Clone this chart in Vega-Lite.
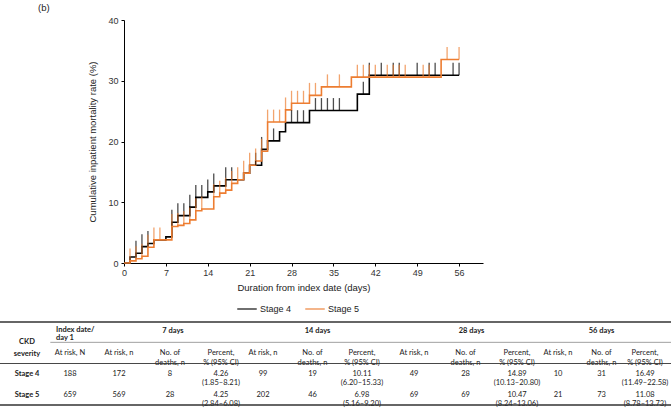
{
  "$schema": "https://vega.github.io/schema/vega-lite/v6.json",
  "width": 359,
  "height": 243,
  "autosize": {"type": "none"},
  "padding": {"left": 124, "top": 20, "right": 188, "bottom": 146},
  "background": "white",
  "config": {"view": {"stroke": null}, "font": "Liberation Sans"},
  "title": {"text": "(b)", "anchor": "start", "frame": "group", "dx": -86, "offset": 4, "fontSize": 9.5, "fontWeight": "normal", "color": "#222222", "font": "Liberation Sans"},
  "datasets": {
    "curve": [
      {"series": "Stage 4", "day": 0, "pct": 0},
      {"series": "Stage 4", "day": 1, "pct": 1.0},
      {"series": "Stage 4", "day": 2, "pct": 1.6},
      {"series": "Stage 4", "day": 3, "pct": 2.7},
      {"series": "Stage 4", "day": 4, "pct": 3.2},
      {"series": "Stage 4", "day": 5, "pct": 3.8},
      {"series": "Stage 4", "day": 7, "pct": 4.3},
      {"series": "Stage 4", "day": 8, "pct": 6.7},
      {"series": "Stage 4", "day": 9, "pct": 7.8},
      {"series": "Stage 4", "day": 11, "pct": 9.2},
      {"series": "Stage 4", "day": 12, "pct": 10.8},
      {"series": "Stage 4", "day": 14, "pct": 11.7},
      {"series": "Stage 4", "day": 15, "pct": 12.7},
      {"series": "Stage 4", "day": 17, "pct": 13.7},
      {"series": "Stage 4", "day": 20, "pct": 14.8},
      {"series": "Stage 4", "day": 21, "pct": 16.1},
      {"series": "Stage 4", "day": 23, "pct": 18.7},
      {"series": "Stage 4", "day": 24, "pct": 20.1},
      {"series": "Stage 4", "day": 26, "pct": 21.6},
      {"series": "Stage 4", "day": 27, "pct": 23.1},
      {"series": "Stage 4", "day": 31, "pct": 25.1},
      {"series": "Stage 4", "day": 39, "pct": 27.8},
      {"series": "Stage 4", "day": 41, "pct": 30.9},
      {"series": "Stage 4", "day": 56, "pct": 30.9},
      {"series": "Stage 5", "day": 0, "pct": 0},
      {"series": "Stage 5", "day": 1, "pct": 0.35},
      {"series": "Stage 5", "day": 2, "pct": 0.7},
      {"series": "Stage 5", "day": 3, "pct": 1.1},
      {"series": "Stage 5", "day": 4, "pct": 2.6},
      {"series": "Stage 5", "day": 5, "pct": 3.8},
      {"series": "Stage 5", "day": 8, "pct": 6.0},
      {"series": "Stage 5", "day": 9, "pct": 6.2},
      {"series": "Stage 5", "day": 10, "pct": 6.5},
      {"series": "Stage 5", "day": 11, "pct": 7.1},
      {"series": "Stage 5", "day": 12, "pct": 8.6},
      {"series": "Stage 5", "day": 13, "pct": 8.9},
      {"series": "Stage 5", "day": 15, "pct": 10.9},
      {"series": "Stage 5", "day": 16, "pct": 11.5},
      {"series": "Stage 5", "day": 17, "pct": 12.0},
      {"series": "Stage 5", "day": 18, "pct": 13.1},
      {"series": "Stage 5", "day": 19, "pct": 13.7},
      {"series": "Stage 5", "day": 20, "pct": 14.8},
      {"series": "Stage 5", "day": 21, "pct": 16.1},
      {"series": "Stage 5", "day": 22, "pct": 16.8},
      {"series": "Stage 5", "day": 23, "pct": 18.4},
      {"series": "Stage 5", "day": 24, "pct": 23.2},
      {"series": "Stage 5", "day": 27, "pct": 25.2},
      {"series": "Stage 5", "day": 28, "pct": 26.3},
      {"series": "Stage 5", "day": 31, "pct": 27.6},
      {"series": "Stage 5", "day": 33, "pct": 29.0},
      {"series": "Stage 5", "day": 38, "pct": 30.6},
      {"series": "Stage 5", "day": 53, "pct": 33.5},
      {"series": "Stage 5", "day": 56, "pct": 33.5}
    ],
    "censor": [
      {"series": "Stage 4", "day": 2, "pct": 1.6},
      {"series": "Stage 4", "day": 3, "pct": 2.7},
      {"series": "Stage 4", "day": 4, "pct": 3.2},
      {"series": "Stage 4", "day": 8, "pct": 6.7},
      {"series": "Stage 4", "day": 9, "pct": 7.8},
      {"series": "Stage 4", "day": 10, "pct": 7.8},
      {"series": "Stage 4", "day": 11, "pct": 9.2},
      {"series": "Stage 4", "day": 12, "pct": 10.8},
      {"series": "Stage 4", "day": 13, "pct": 10.8},
      {"series": "Stage 4", "day": 14, "pct": 11.7},
      {"series": "Stage 4", "day": 15, "pct": 12.7},
      {"series": "Stage 4", "day": 17, "pct": 13.7},
      {"series": "Stage 4", "day": 18, "pct": 13.7},
      {"series": "Stage 4", "day": 22, "pct": 16.1},
      {"series": "Stage 4", "day": 23, "pct": 18.7},
      {"series": "Stage 4", "day": 25, "pct": 20.1},
      {"series": "Stage 4", "day": 28, "pct": 23.1},
      {"series": "Stage 4", "day": 29, "pct": 23.1},
      {"series": "Stage 4", "day": 30, "pct": 23.1},
      {"series": "Stage 4", "day": 32, "pct": 25.1},
      {"series": "Stage 4", "day": 33, "pct": 25.1},
      {"series": "Stage 4", "day": 34, "pct": 25.1},
      {"series": "Stage 4", "day": 35, "pct": 25.1},
      {"series": "Stage 4", "day": 36, "pct": 25.1},
      {"series": "Stage 4", "day": 40, "pct": 27.8},
      {"series": "Stage 4", "day": 41, "pct": 30.9},
      {"series": "Stage 4", "day": 43, "pct": 30.9},
      {"series": "Stage 4", "day": 45, "pct": 30.9},
      {"series": "Stage 4", "day": 46, "pct": 30.9},
      {"series": "Stage 4", "day": 49, "pct": 30.9},
      {"series": "Stage 4", "day": 51, "pct": 30.9},
      {"series": "Stage 4", "day": 52, "pct": 30.9},
      {"series": "Stage 4", "day": 55, "pct": 30.9},
      {"series": "Stage 4", "day": 56, "pct": 30.9},
      {"series": "Stage 5", "day": 1, "pct": 0.35},
      {"series": "Stage 5", "day": 2, "pct": 0.7},
      {"series": "Stage 5", "day": 3, "pct": 1.1},
      {"series": "Stage 5", "day": 4, "pct": 2.6},
      {"series": "Stage 5", "day": 5, "pct": 3.8},
      {"series": "Stage 5", "day": 6, "pct": 3.8},
      {"series": "Stage 5", "day": 8, "pct": 6.0},
      {"series": "Stage 5", "day": 9, "pct": 6.2},
      {"series": "Stage 5", "day": 10, "pct": 6.5},
      {"series": "Stage 5", "day": 11, "pct": 7.1},
      {"series": "Stage 5", "day": 12, "pct": 8.6},
      {"series": "Stage 5", "day": 13, "pct": 8.9},
      {"series": "Stage 5", "day": 15, "pct": 10.9},
      {"series": "Stage 5", "day": 16, "pct": 11.5},
      {"series": "Stage 5", "day": 17, "pct": 12.0},
      {"series": "Stage 5", "day": 18, "pct": 13.1},
      {"series": "Stage 5", "day": 19, "pct": 13.7},
      {"series": "Stage 5", "day": 20, "pct": 14.8},
      {"series": "Stage 5", "day": 21, "pct": 16.1},
      {"series": "Stage 5", "day": 22, "pct": 16.8},
      {"series": "Stage 5", "day": 23, "pct": 18.4},
      {"series": "Stage 5", "day": 24, "pct": 23.2},
      {"series": "Stage 5", "day": 25, "pct": 23.2},
      {"series": "Stage 5", "day": 26, "pct": 23.2},
      {"series": "Stage 5", "day": 27, "pct": 25.2},
      {"series": "Stage 5", "day": 28, "pct": 26.3},
      {"series": "Stage 5", "day": 29, "pct": 26.3},
      {"series": "Stage 5", "day": 30, "pct": 26.3},
      {"series": "Stage 5", "day": 31, "pct": 27.6},
      {"series": "Stage 5", "day": 32, "pct": 27.6},
      {"series": "Stage 5", "day": 34, "pct": 29.0},
      {"series": "Stage 5", "day": 36, "pct": 29.0},
      {"series": "Stage 5", "day": 39, "pct": 30.6},
      {"series": "Stage 5", "day": 40, "pct": 30.6},
      {"series": "Stage 5", "day": 41, "pct": 30.6},
      {"series": "Stage 5", "day": 42, "pct": 30.6},
      {"series": "Stage 5", "day": 44, "pct": 30.6},
      {"series": "Stage 5", "day": 45, "pct": 30.6},
      {"series": "Stage 5", "day": 46, "pct": 30.6},
      {"series": "Stage 5", "day": 47, "pct": 30.6},
      {"series": "Stage 5", "day": 50, "pct": 30.6},
      {"series": "Stage 5", "day": 51, "pct": 30.6},
      {"series": "Stage 5", "day": 54, "pct": 33.5},
      {"series": "Stage 5", "day": 56, "pct": 33.5}
    ],
    "cells": [
      {"row": "h1", "grp": "lead", "sub": "sev", "txt": "CKD\nseverity"},
      {"row": "h1", "grp": "lead", "sub": "N", "txt": "Index date/\nday 1"},
      {"row": "h2", "grp": "lead", "sub": "N", "txt": "At risk, N"},
      {"row": "s4", "grp": "lead", "sub": "sev", "txt": "Stage 4"},
      {"row": "s4", "grp": "lead", "sub": "N", "txt": "188"},
      {"row": "s5", "grp": "lead", "sub": "sev", "txt": "Stage 5"},
      {"row": "s5", "grp": "lead", "sub": "N", "txt": "659"},

      {"row": "h1", "grp": "7", "sub": "d", "txt": "7 days"},
      {"row": "h2", "grp": "7", "sub": "r", "txt": "At risk, n"},
      {"row": "h2", "grp": "7", "sub": "d", "txt": "No. of\ndeaths, n"},
      {"row": "h2", "grp": "7", "sub": "p", "txt": "Percent,\n% (95% CI)"},
      {"row": "s4", "grp": "7", "sub": "r", "txt": "172"},
      {"row": "s4", "grp": "7", "sub": "d", "txt": "8"},
      {"row": "s4", "grp": "7", "sub": "p", "txt": "4.26\n(1.85–8.21)"},
      {"row": "s5", "grp": "7", "sub": "r", "txt": "569"},
      {"row": "s5", "grp": "7", "sub": "d", "txt": "28"},
      {"row": "s5", "grp": "7", "sub": "p", "txt": "4.25\n(2.84–6.08)"},

      {"row": "h1", "grp": "14", "sub": "d", "txt": "14 days"},
      {"row": "h2", "grp": "14", "sub": "r", "txt": "At risk, n"},
      {"row": "h2", "grp": "14", "sub": "d", "txt": "No. of\ndeaths, n"},
      {"row": "h2", "grp": "14", "sub": "p", "txt": "Percent,\n% (95% CI)"},
      {"row": "s4", "grp": "14", "sub": "r", "txt": "99"},
      {"row": "s4", "grp": "14", "sub": "d", "txt": "19"},
      {"row": "s4", "grp": "14", "sub": "p", "txt": "10.11\n(6.20–15.33)"},
      {"row": "s5", "grp": "14", "sub": "r", "txt": "202"},
      {"row": "s5", "grp": "14", "sub": "d", "txt": "46"},
      {"row": "s5", "grp": "14", "sub": "p", "txt": "6.98\n(5.16–9.20)"},

      {"row": "h1", "grp": "28", "sub": "d", "txt": "28 days"},
      {"row": "h2", "grp": "28", "sub": "r", "txt": "At risk, n"},
      {"row": "h2", "grp": "28", "sub": "d", "txt": "No. of\ndeaths, n"},
      {"row": "h2", "grp": "28", "sub": "p", "txt": "Percent,\n% (95% CI)"},
      {"row": "s4", "grp": "28", "sub": "r", "txt": "49"},
      {"row": "s4", "grp": "28", "sub": "d", "txt": "28"},
      {"row": "s4", "grp": "28", "sub": "p", "txt": "14.89\n(10.13–20.80)"},
      {"row": "s5", "grp": "28", "sub": "r", "txt": "69"},
      {"row": "s5", "grp": "28", "sub": "d", "txt": "69"},
      {"row": "s5", "grp": "28", "sub": "p", "txt": "10.47\n(8.24–13.06)"},

      {"row": "h1", "grp": "56", "sub": "d", "txt": "56 days"},
      {"row": "h2", "grp": "56", "sub": "r", "txt": "At risk, n"},
      {"row": "h2", "grp": "56", "sub": "d", "txt": "No. of\ndeaths, n"},
      {"row": "h2", "grp": "56", "sub": "p", "txt": "Percent,\n% (95% CI)"},
      {"row": "s4", "grp": "56", "sub": "r", "txt": "10"},
      {"row": "s4", "grp": "56", "sub": "d", "txt": "31"},
      {"row": "s4", "grp": "56", "sub": "p", "txt": "16.49\n(11.49–22.58)"},
      {"row": "s5", "grp": "56", "sub": "r", "txt": "21"},
      {"row": "s5", "grp": "56", "sub": "d", "txt": "73"},
      {"row": "s5", "grp": "56", "sub": "p", "txt": "11.08\n(8.78–13.73)"}
    ]
  },
  "layer": [
    {
      "layer": [
        {
          "data": {"name": "curve"},
          "mark": {"type": "line", "interpolate": "step-after", "strokeWidth": 1.6},
          "encoding": {
            "x": {
              "field": "day", "type": "quantitative",
              "scale": {"domain": [0, 60], "nice": false, "zero": false},
              "axis": {
                "values": [0, 7, 14, 21, 28, 35, 42, 49, 56],
                "title": "Duration from index date (days)",
                "grid": false, "labelFlush": false,
                "tickSize": 3, "labelPadding": 2,
                "labelFont": "Liberation Sans", "labelFontSize": 9, "labelColor": "#333333",
                "titleFont": "Liberation Sans", "titleFontSize": 9.5, "titleFontWeight": "normal", "titleColor": "#222222",
                "titlePadding": 5, "domainColor": "#000000", "tickColor": "#000000"
              }
            },
            "y": {
              "field": "pct", "type": "quantitative",
              "scale": {"domain": [0, 40], "nice": false},
              "axis": {
                "values": [0, 5, 10, 15, 20, 25, 30, 35, 40],
                "title": "Cumulative inpatient mortality rate (%)",
                "grid": false, "labelFlush": false,
                "tickSize": 3, "labelPadding": 3,
                "labelFont": "Liberation Sans", "labelFontSize": 9, "labelColor": "#333333",
                "titleFont": "Liberation Sans", "titleFontSize": 9.5, "titleFontWeight": "normal", "titleColor": "#222222",
                "titlePadding": 10, "domainColor": "#000000", "tickColor": "#000000"
              }
            },
            "color": {
              "field": "series", "type": "nominal",
              "scale": {"domain": ["Stage 4", "Stage 5"], "range": ["#000000", "#ED7D31"]},
              "legend": {
                "orient": "none", "legendX": 112, "legendY": 278, "direction": "horizontal",
                "title": null, "symbolType": "stroke", "symbolSize": 380, "symbolStrokeWidth": 1.6,
                "labelFont": "Liberation Sans", "labelFontSize": 9, "labelColor": "#222222",
                "columnPadding": 10, "labelOffset": 2
              }
            }
          }
        },
        {
          "data": {"name": "censor"},
          "mark": {"type": "tick", "orient": "vertical", "size": 12.5, "thickness": 1.3, "yOffset": -6.2},
          "encoding": {
            "x": {"field": "day", "type": "quantitative"},
            "y": {"field": "pct", "type": "quantitative"},
            "color": {
              "field": "series", "type": "nominal",
              "scale": {"domain": ["Stage 4", "Stage 5"], "range": ["#000000", "#ED7D31"]},
              "legend": {
                "orient": "none", "legendX": 112, "legendY": 278, "direction": "horizontal",
                "title": null, "symbolType": "stroke", "symbolSize": 380, "symbolStrokeWidth": 1.6,
                "labelFont": "Liberation Sans", "labelFontSize": 9, "labelColor": "#222222",
                "columnPadding": 10, "labelOffset": 2
              }
            }
          }
        }
      ]
    },
    {
      "layer": [
        {
          "data": {"name": "cells"},
          "transform": [{"filter": "datum.grp == 'lead' && datum.sub == 'sev' && datum.row != 'h1'"}],
          "mark": {"type": "text", "font": "Lato", "fontSize": 7.5, "fontWeight": "bold", "color": "#222222"},
          "encoding": {
            "x": {"field": "sub", "type": "nominal", "axis": null, "scale": {"type": "point", "padding": 0, "domain": ["sev", "N"], "range": [-97, -54]}},
            "y": {"field": "row", "type": "nominal", "axis": null, "scale": {"type": "band", "domain": ["h1", "h2", "s4", "s5"], "range": [302, 385], "paddingInner": 0, "paddingOuter": 0}},
            "text": {"field": "txt"}
          }
        },
        {
          "data": {"name": "cells"},
          "transform": [{"filter": "datum.grp == 'lead' && datum.sub == 'sev' && datum.row == 'h1'"}],
          "mark": {"type": "text", "font": "Lato", "fontSize": 7.5, "fontWeight": "bold", "color": "#222222", "lineBreak": "\n", "lineHeight": 12, "dy": -1},
          "encoding": {
            "x": {"field": "sub", "type": "nominal", "axis": null, "scale": {"type": "point", "padding": 0, "domain": ["sev", "N"], "range": [-97, -54]}},
            "y": {"field": "row", "type": "nominal", "axis": null, "bandPosition": 1, "scale": {"type": "band", "domain": ["h1", "h2", "s4", "s5"], "range": [302, 385], "paddingInner": 0, "paddingOuter": 0}},
            "text": {"field": "txt"}
          }
        },
        {
          "data": {"name": "cells"},
          "transform": [{"filter": "datum.grp == 'lead' && datum.sub == 'N' && datum.row == 'h1'"}],
          "mark": {"type": "text", "font": "Lato", "fontSize": 7.5, "fontWeight": "bold", "color": "#222222", "lineBreak": "\n", "lineHeight": 8.5, "align": "left", "dx": -14, "dy": -2.5},
          "encoding": {
            "x": {"field": "sub", "type": "nominal", "axis": null, "scale": {"type": "point", "padding": 0, "domain": ["sev", "N"], "range": [-97, -54]}},
            "y": {"field": "row", "type": "nominal", "axis": null, "scale": {"type": "band", "domain": ["h1", "h2", "s4", "s5"], "range": [302, 385], "paddingInner": 0, "paddingOuter": 0}},
            "text": {"field": "txt"}
          }
        },
        {
          "data": {"name": "cells"},
          "transform": [{"filter": "datum.grp == 'lead' && datum.sub == 'N' && datum.row != 'h1'"}],
          "mark": {"type": "text", "font": "Lato", "fontSize": 7.5, "color": "#222222"},
          "encoding": {
            "x": {"field": "sub", "type": "nominal", "axis": null, "scale": {"type": "point", "padding": 0, "domain": ["sev", "N"], "range": [-97, -54]}},
            "y": {"field": "row", "type": "nominal", "axis": null, "scale": {"type": "band", "domain": ["h1", "h2", "s4", "s5"], "range": [302, 385], "paddingInner": 0, "paddingOuter": 0}},
            "text": {"field": "txt"}
          }
        },
        {
          "data": {"name": "cells"},
          "transform": [{"filter": "datum.grp == '7' && datum.row != 'h1'"}],
          "mark": {"type": "text", "font": "Lato", "fontSize": 7.5, "color": "#222222", "lineBreak": "\n", "lineHeight": 9.5},
          "encoding": {
            "x": {"field": "sub", "type": "nominal", "axis": null, "scale": {"type": "point", "padding": 0, "domain": ["r", "d", "p"], "range": [-5, 97]}},
            "y": {"field": "row", "type": "nominal", "axis": null, "scale": {"type": "band", "domain": ["h1", "h2", "s4", "s5"], "range": [302, 385], "paddingInner": 0, "paddingOuter": 0}},
            "text": {"field": "txt"}
          }
        },
        {
          "data": {"name": "cells"},
          "transform": [{"filter": "datum.grp == '7' && datum.row == 'h1'"}],
          "mark": {"type": "text", "font": "Lato", "fontSize": 7.5, "fontWeight": "bold", "color": "#222222", "dx": 3, "dy": -1},
          "encoding": {
            "x": {"field": "sub", "type": "nominal", "axis": null, "scale": {"type": "point", "padding": 0, "domain": ["r", "d", "p"], "range": [-5, 97]}},
            "y": {"field": "row", "type": "nominal", "axis": null, "scale": {"type": "band", "domain": ["h1", "h2", "s4", "s5"], "range": [302, 385], "paddingInner": 0, "paddingOuter": 0}},
            "text": {"field": "txt"}
          }
        },
        {
          "data": {"name": "cells"},
          "transform": [{"filter": "datum.grp == '14' && datum.row != 'h1'"}],
          "mark": {"type": "text", "font": "Lato", "fontSize": 7.5, "color": "#222222", "lineBreak": "\n", "lineHeight": 9.5},
          "encoding": {
            "x": {"field": "sub", "type": "nominal", "axis": null, "scale": {"type": "point", "padding": 0, "domain": ["r", "d", "p"], "range": [139, 238]}},
            "y": {"field": "row", "type": "nominal", "axis": null, "scale": {"type": "band", "domain": ["h1", "h2", "s4", "s5"], "range": [302, 385], "paddingInner": 0, "paddingOuter": 0}},
            "text": {"field": "txt"}
          }
        },
        {
          "data": {"name": "cells"},
          "transform": [{"filter": "datum.grp == '14' && datum.row == 'h1'"}],
          "mark": {"type": "text", "font": "Lato", "fontSize": 7.5, "fontWeight": "bold", "color": "#222222", "dx": 5, "dy": -1},
          "encoding": {
            "x": {"field": "sub", "type": "nominal", "axis": null, "scale": {"type": "point", "padding": 0, "domain": ["r", "d", "p"], "range": [139, 238]}},
            "y": {"field": "row", "type": "nominal", "axis": null, "scale": {"type": "band", "domain": ["h1", "h2", "s4", "s5"], "range": [302, 385], "paddingInner": 0, "paddingOuter": 0}},
            "text": {"field": "txt"}
          }
        },
        {
          "data": {"name": "cells"},
          "transform": [{"filter": "datum.grp == '28' && datum.row != 'h1'"}],
          "mark": {"type": "text", "font": "Lato", "fontSize": 7.5, "color": "#222222", "lineBreak": "\n", "lineHeight": 9.5},
          "encoding": {
            "x": {"field": "sub", "type": "nominal", "axis": null, "scale": {"type": "point", "padding": 0, "domain": ["r", "d", "p"], "range": [290, 393]}},
            "y": {"field": "row", "type": "nominal", "axis": null, "scale": {"type": "band", "domain": ["h1", "h2", "s4", "s5"], "range": [302, 385], "paddingInner": 0, "paddingOuter": 0}},
            "text": {"field": "txt"}
          }
        },
        {
          "data": {"name": "cells"},
          "transform": [{"filter": "datum.grp == '28' && datum.row == 'h1'"}],
          "mark": {"type": "text", "font": "Lato", "fontSize": 7.5, "fontWeight": "bold", "color": "#222222", "dx": 6, "dy": -1},
          "encoding": {
            "x": {"field": "sub", "type": "nominal", "axis": null, "scale": {"type": "point", "padding": 0, "domain": ["r", "d", "p"], "range": [290, 393]}},
            "y": {"field": "row", "type": "nominal", "axis": null, "scale": {"type": "band", "domain": ["h1", "h2", "s4", "s5"], "range": [302, 385], "paddingInner": 0, "paddingOuter": 0}},
            "text": {"field": "txt"}
          }
        },
        {
          "data": {"name": "cells"},
          "transform": [{"filter": "datum.grp == '56' && datum.row != 'h1'"}],
          "mark": {"type": "text", "font": "Lato", "fontSize": 7.5, "color": "#222222", "lineBreak": "\n", "lineHeight": 9.5},
          "encoding": {
            "x": {"field": "sub", "type": "nominal", "axis": null, "scale": {"type": "point", "padding": 0, "domain": ["r", "d", "p"], "range": [434, 521]}},
            "y": {"field": "row", "type": "nominal", "axis": null, "scale": {"type": "band", "domain": ["h1", "h2", "s4", "s5"], "range": [302, 385], "paddingInner": 0, "paddingOuter": 0}},
            "text": {"field": "txt"}
          }
        },
        {
          "data": {"name": "cells"},
          "transform": [{"filter": "datum.grp == '56' && datum.row == 'h1'"}],
          "mark": {"type": "text", "font": "Lato", "fontSize": 7.5, "fontWeight": "bold", "color": "#222222", "dy": -1},
          "encoding": {
            "x": {"field": "sub", "type": "nominal", "axis": null, "scale": {"type": "point", "padding": 0, "domain": ["r", "d", "p"], "range": [434, 521]}},
            "y": {"field": "row", "type": "nominal", "axis": null, "scale": {"type": "band", "domain": ["h1", "h2", "s4", "s5"], "range": [302, 385], "paddingInner": 0, "paddingOuter": 0}},
            "text": {"field": "txt"}
          }
        },
        {
          "data": {"values": [{"row": "h1"}]},
          "mark": {"type": "rule", "strokeWidth": 1.5, "color": "#333333"},
          "encoding": {
            "x": {"datum": 0, "type": "quantitative", "axis": null, "scale": {"domain": [0, 1], "range": [-124, 547]}},
            "x2": {"datum": 1},
            "y": {"field": "row", "type": "nominal", "axis": null, "bandPosition": 0, "scale": {"type": "band", "domain": ["h1", "h2", "s4", "s5"], "range": [302, 385], "paddingInner": 0, "paddingOuter": 0}}
          }
        },
        {
          "data": {"values": [{"row": "h1"}]},
          "mark": {"type": "rule", "strokeWidth": 0.7, "color": "#777777"},
          "encoding": {
            "x": {"datum": 0.075, "type": "quantitative", "axis": null, "scale": {"domain": [0, 1], "range": [-124, 547]}},
            "x2": {"datum": 1},
            "y": {"field": "row", "type": "nominal", "axis": null, "bandPosition": 0.98, "scale": {"type": "band", "domain": ["h1", "h2", "s4", "s5"], "range": [302, 385], "paddingInner": 0, "paddingOuter": 0}}
          }
        },
        {
          "data": {"values": [{"row": "h2"}]},
          "mark": {"type": "rule", "strokeWidth": 0.9, "color": "#333333"},
          "encoding": {
            "x": {"datum": 0, "type": "quantitative", "axis": null, "scale": {"domain": [0, 1], "range": [-124, 547]}},
            "x2": {"datum": 1},
            "y": {"field": "row", "type": "nominal", "axis": null, "bandPosition": 1, "scale": {"type": "band", "domain": ["h1", "h2", "s4", "s5"], "range": [302, 385], "paddingInner": 0, "paddingOuter": 0}}
          }
        },
        {
          "data": {"values": [{"row": "s5"}]},
          "mark": {"type": "rule", "strokeWidth": 1.5, "color": "#333333"},
          "encoding": {
            "x": {"datum": 0, "type": "quantitative", "axis": null, "scale": {"domain": [0, 1], "range": [-124, 547]}},
            "x2": {"datum": 1},
            "y": {"field": "row", "type": "nominal", "axis": null, "bandPosition": 1, "scale": {"type": "band", "domain": ["h1", "h2", "s4", "s5"], "range": [302, 385], "paddingInner": 0, "paddingOuter": 0}}
          }
        }
      ],
      "resolve": {"scale": {"x": "independent"}}
    }
  ],
  "resolve": {"scale": {"x": "independent", "y": "independent"}}
}
